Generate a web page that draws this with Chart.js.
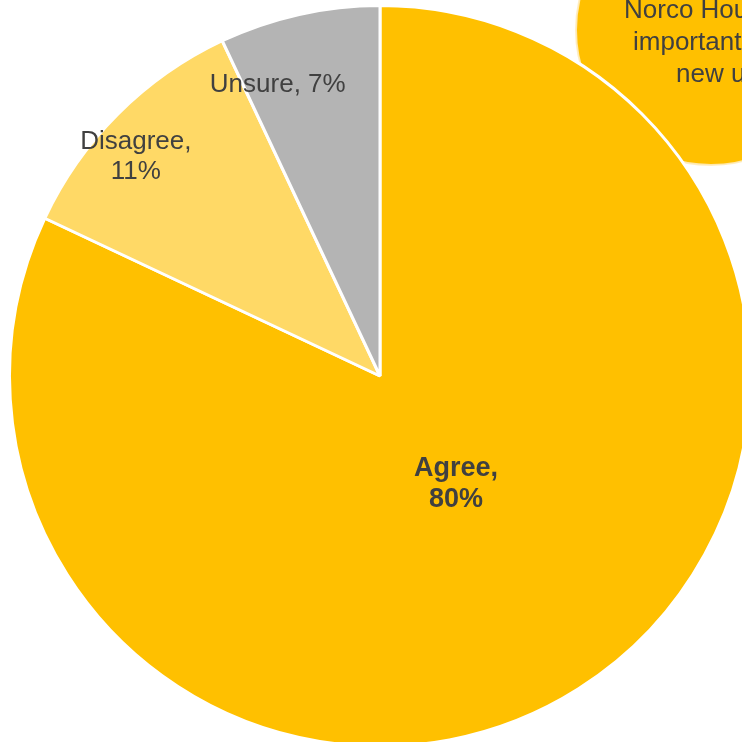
<!DOCTYPE html>
<html>
<head>
<meta charset="utf-8">
<script src="https://cdn.jsdelivr.net/npm/chart.js@4/dist/chart.umd.min.js"></script>
<style>
  html, body { margin: 0; padding: 0; background: #fff; overflow: hidden; }
  #wrap { position: absolute; left: 0; top: 0; width: 760px; height: 760px; }
</style>
</head>
<body>
<div id="wrap"><canvas id="pie" width="760" height="760"></canvas></div>
<script>
// Datos del gráfico
const categories = ['Agree', 'Disagree', 'Unsure'];
const values = [82, 11, 7];
const percentLabels = ['80%', '11%', '7%'];
const sliceColors = ['#FFC000', '#FFD966', '#B4B4B4'];

// Texto del círculo de la esquina (cortado por el borde)
const calloutLines = ['Norco Housing', 'important to', 'new units'];

// Posición de cada etiqueta, en fracciones del radio desde el centro
const labelOffsets = [[0.205, 0.289], [-0.659, -0.592], [-0.276, -0.786]];

// Plugin: círculo de la esquina, dibujado detrás del pastel
const calloutPlugin = {
    id: 'callout',
    beforeDatasetsDraw(chart) {
        const ctx = chart.ctx;
        ctx.save();
        ctx.beginPath();
        ctx.arc(711, 30, 135, 0, Math.PI * 2);
        ctx.fillStyle = '#FFC000';
        ctx.fill();
        ctx.lineWidth = 2;
        ctx.strokeStyle = 'rgba(255,236,190,0.9)';
        ctx.stroke();
        ctx.fillStyle = '#404040';
        ctx.font = '26px "Liberation Sans", Arial, sans-serif';
        ctx.textAlign = 'left';
        ctx.textBaseline = 'alphabetic';
        ctx.fillText(calloutLines[0], 624, 18);
        ctx.fillText(calloutLines[1], 633, 50);
        ctx.fillText(calloutLines[2], 676, 82);
        ctx.restore();
    }
};

// Plugin: etiquetas de las porciones
const labelPlugin = {
    id: 'sliceLabels',
    afterDatasetsDraw(chart) {
        const ctx = chart.ctx;
        const arcs = chart.getDatasetMeta(0).data;
        ctx.save();
        ctx.fillStyle = '#404040';
        ctx.textAlign = 'center';
        ctx.textBaseline = 'middle';
        arcs.forEach((arc, i) => {
            const r = arc.outerRadius;
            const x = arc.x + labelOffsets[i][0] * r;
            const y = arc.y + labelOffsets[i][1] * r;
            const text = categories[i] + ', ' + percentLabels[i];
            if (i === 0) {
                ctx.font = 'bold 27px "Liberation Sans", Arial, sans-serif';
                ctx.fillText(categories[i] + ',', x, y - 15);
                ctx.fillText(percentLabels[i], x, y + 16);
            } else if (i === 1) {
                ctx.font = '26px "Liberation Sans", Arial, sans-serif';
                ctx.fillText(categories[i] + ',', x, y - 15);
                ctx.fillText(percentLabels[i], x, y + 15);
            } else {
                ctx.font = '26px "Liberation Sans", Arial, sans-serif';
                ctx.fillText(text, x, y);
            }
        });
        ctx.restore();
    }
};

const ctxPie = document.getElementById('pie').getContext('2d');
const pieChart = new Chart(ctxPie, {
    type: 'pie',
    data: {
        labels: categories,
        datasets: [{
            data: values,
            backgroundColor: sliceColors,
            borderColor: '#FFFFFF',
            borderWidth: 3
        }]
    },
    options: {
        responsive: false,
        animation: false,
        layout: { padding: { left: 8, top: 4, right: 8, bottom: 12 } },
        plugins: {
            legend: { display: false },
            tooltip: { enabled: false }
        }
    },
    plugins: [calloutPlugin, labelPlugin]
});
</script>
</body>
</html>
